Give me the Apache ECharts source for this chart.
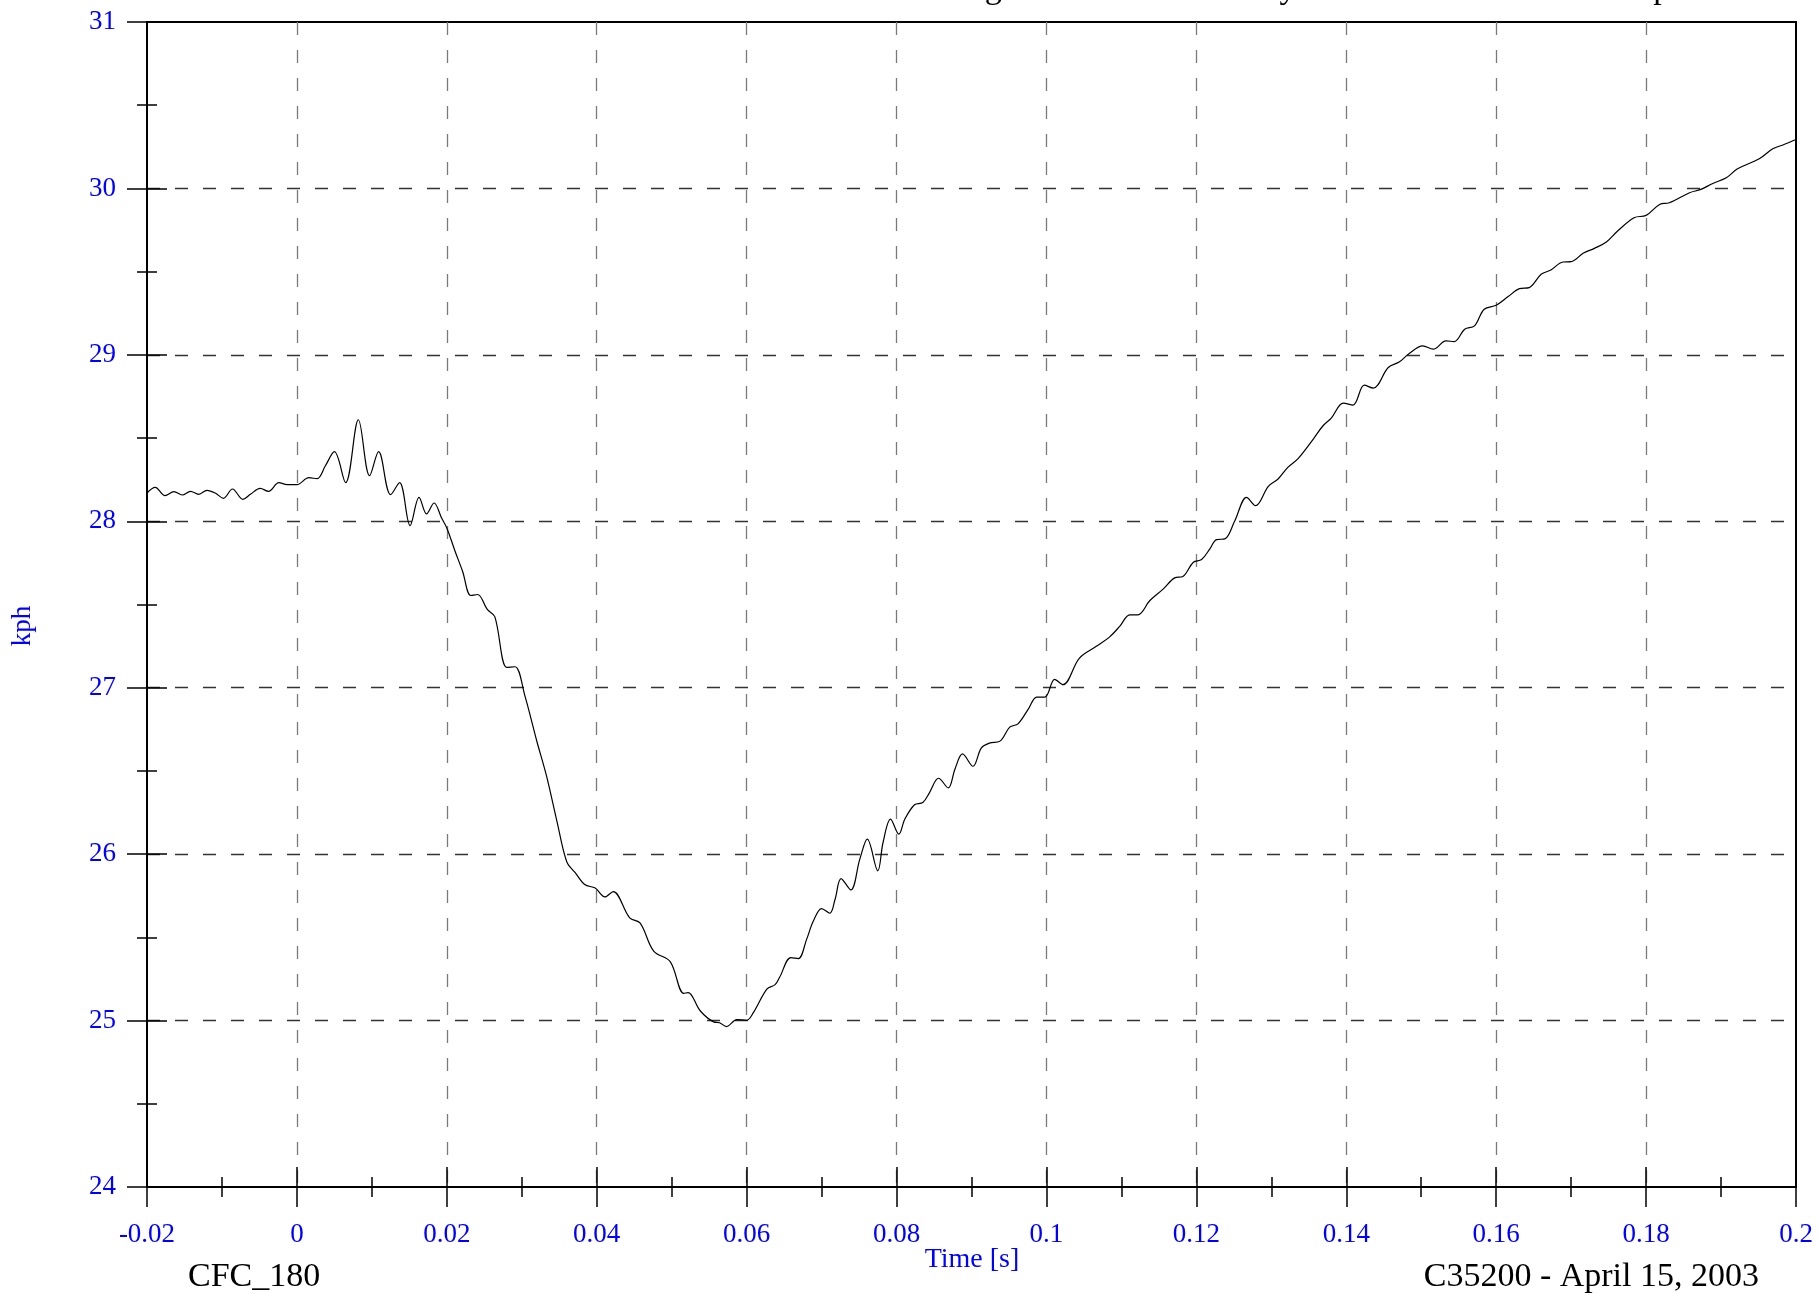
<!DOCTYPE html>
<html>
<head>
<meta charset="utf-8">
<title>kph vs Time</title>
<script src="https://cdn.jsdelivr.net/npm/echarts@6/dist/echarts.min.js"></script>
<style>
  html,body{margin:0;padding:0;background:#fff;}
  #chart{width:1818px;height:1293px;}
</style>
</head>
<body>
<div id="chart"></div>
<script>
// time [s] and velocity [kph]
var timeS=[-0.0200,-0.0189,-0.0176,-0.0164,-0.0153,-0.0142,-0.0131,-0.0120,-0.0109,-0.0098,
	-0.0086,-0.0072,-0.0062,-0.0049,-0.0038,-0.0024,-0.0013,0.0000,0.0016,0.0027,
	0.0038,0.0050,0.0065,0.0082,0.0097,0.0109,0.0125,0.0137,0.0151,0.0163,
	0.0173,0.0183,0.0193,0.0200,0.0211,0.0221,0.0232,0.0241,0.0254,0.0264,
	0.0280,0.0291,0.0304,0.0320,0.0333,0.0347,0.0360,0.0371,0.0384,0.0398,
	0.0411,0.0422,0.0444,0.0458,0.0476,0.0498,0.0516,0.0522,0.0538,0.0556,
	0.0564,0.0573,0.0587,0.0600,0.0609,0.0627,0.0638,0.0644,0.0659,0.0669,
	0.0680,0.0689,0.0700,0.0711,0.0718,0.0726,0.0739,0.0751,0.0761,0.0775,
	0.0782,0.0792,0.0803,0.0811,0.0824,0.0835,0.0844,0.0856,0.0869,0.0878,
	0.0888,0.0902,0.0913,0.0924,0.0938,0.0951,0.0962,0.0976,0.0987,0.0998,
	0.1011,0.1022,0.1044,0.1067,0.1084,0.1098,0.1111,0.1122,0.1138,0.1156,
	0.1171,0.1182,0.1196,0.1207,0.1218,0.1227,0.1238,0.1251,0.1267,0.1279,
	0.1296,0.1309,0.1322,0.1336,0.1356,0.1369,0.1380,0.1396,0.1409,0.1424,
	0.1436,0.1456,0.1471,0.1484,0.1502,0.1516,0.1533,0.1544,0.1558,0.1571,
	0.1584,0.1600,0.1616,0.1631,0.1644,0.1660,0.1673,0.1689,0.1700,0.1716,
	0.1731,0.1747,0.1762,0.1784,0.1800,0.1818,0.1831,0.1858,0.1873,0.1889,
	0.1907,0.1922,0.1951,0.1969,0.1984,0.2000];
var speedKph=[28.170,28.204,28.154,28.178,28.158,28.180,28.162,28.186,28.170,28.138,
	28.194,28.132,28.162,28.198,28.180,28.232,28.220,28.220,28.262,28.256,
	28.334,28.418,28.232,28.610,28.274,28.418,28.160,28.232,27.974,28.144,
	28.044,28.110,28.020,27.960,27.820,27.700,27.554,27.560,27.470,27.427,
	27.122,27.126,26.954,26.680,26.470,26.196,25.954,25.890,25.817,25.796,
	25.743,25.775,25.617,25.585,25.417,25.354,25.164,25.168,25.059,24.992,
	24.987,24.964,25.006,25.002,25.048,25.189,25.216,25.260,25.378,25.372,
	25.488,25.598,25.673,25.645,25.729,25.853,25.785,25.970,26.090,25.900,
	26.070,26.210,26.120,26.210,26.297,26.310,26.370,26.456,26.398,26.512,
	26.602,26.528,26.637,26.667,26.679,26.763,26.783,26.873,26.944,26.944,
	27.050,27.018,27.178,27.250,27.304,27.370,27.438,27.438,27.524,27.594,
	27.660,27.668,27.754,27.770,27.834,27.890,27.894,28.000,28.144,28.094,
	28.210,28.254,28.324,28.378,28.494,28.574,28.620,28.710,28.698,28.818,
	28.800,28.924,28.958,29.008,29.054,29.034,29.084,29.080,29.154,29.174,
	29.274,29.298,29.350,29.398,29.404,29.484,29.510,29.558,29.560,29.610,
	29.640,29.678,29.744,29.824,29.838,29.904,29.914,29.974,29.994,30.030,
	30.064,30.118,30.178,30.238,30.264,30.294];

var xRange=[-0.02,0.2], xStep=0.02;
var yRange=[24,31], yStep=1;
// only the descenders of the heading show at the top edge
var titleText='Longitudinal Sled Velocity at the Aft Rear Seat Occupant Location';
var xName='Time [s]', yName='kph';
var noteLeft='CFC_180', noteRight='C35200 - April 15, 2003';

var serif='"Liberation Serif","Times New Roman",serif';
var blue='#0000ff';

var pts=[];
for(var i=0;i<timeS.length;i++){
	pts.push([timeS[i],speedKph[i]]);
}

function xAx(inner){
	return {
		type:'value',position:'bottom',min:xRange[0],max:xRange[1],interval:xStep,
		axisLine:{show:!inner,onZero:false,lineStyle:{color:'#000',width:2}},
		axisTick:{show:true,inside:inner,length:20,lineStyle:{color:'#000',width:1.5}},
		minorTick:{show:true,splitNumber:2,length:10,lineStyle:{color:'#000',width:1.5}},
		axisLabel:{show:!inner,margin:34,color:blue,fontSize:27,fontFamily:serif,
			formatter:function(v){return String(+v.toFixed(3));}},
		splitLine:{show:!inner,showMinLine:false,showMaxLine:false,
			lineStyle:{color:'#7a7a7a',width:1.3,type:[13,15]}}
	};
}
function yAx(inner){
	return {
		type:'value',position:'left',min:yRange[0],max:yRange[1],interval:yStep,
		axisLine:{show:!inner,onZero:false,lineStyle:{color:'#000',width:2}},
		axisTick:{show:true,inside:inner,length:20,lineStyle:{color:'#000',width:1.5}},
		minorTick:{show:true,splitNumber:2,length:10,lineStyle:{color:'#000',width:1.5}},
		axisLabel:{show:!inner,margin:31,color:blue,fontSize:27,fontFamily:serif},
		splitLine:{show:!inner,showMinLine:false,showMaxLine:false,
			lineStyle:{color:'#333',width:1.3,type:[13,15]}}
	};
}

var myChart=echarts.init(document.getElementById('chart'),null,{renderer:'canvas'});
myChart.setOption({
	animation:false,
	backgroundColor:'#fff',
	grid:{left:147,right:22,top:22,bottom:106,show:true,borderColor:'#000',borderWidth:2},
	xAxis:[xAx(false),xAx(true)],
	yAxis:[yAx(false),yAx(true)],
	graphic:[
		{type:'text',x:930,y:-11,style:{text:titleText,font:'34px '+serif,fill:'#000',textVerticalAlign:'middle'}},
		{type:'text',x:23,y:626,rotation:Math.PI/2,style:{text:yName,font:'27px '+serif,fill:blue,textAlign:'center',textVerticalAlign:'middle'}},
		{type:'text',x:972,y:1260,style:{text:xName,font:'28px '+serif,fill:blue,textAlign:'center',textVerticalAlign:'middle'}},
		{type:'text',x:188,y:1277,style:{text:noteLeft,font:'34px '+serif,fill:'#000',textAlign:'left',textVerticalAlign:'middle'}},
		{type:'text',x:1759,y:1277,style:{text:noteRight,font:'34px '+serif,fill:'#000',textAlign:'right',textVerticalAlign:'middle'}}
	],
	series:[{
		type:'line',xAxisIndex:0,yAxisIndex:0,data:pts,
		showSymbol:false,smooth:0.35,
		lineStyle:{color:'#000',width:1.2}
	}]
});
</script>
</body>
</html>
